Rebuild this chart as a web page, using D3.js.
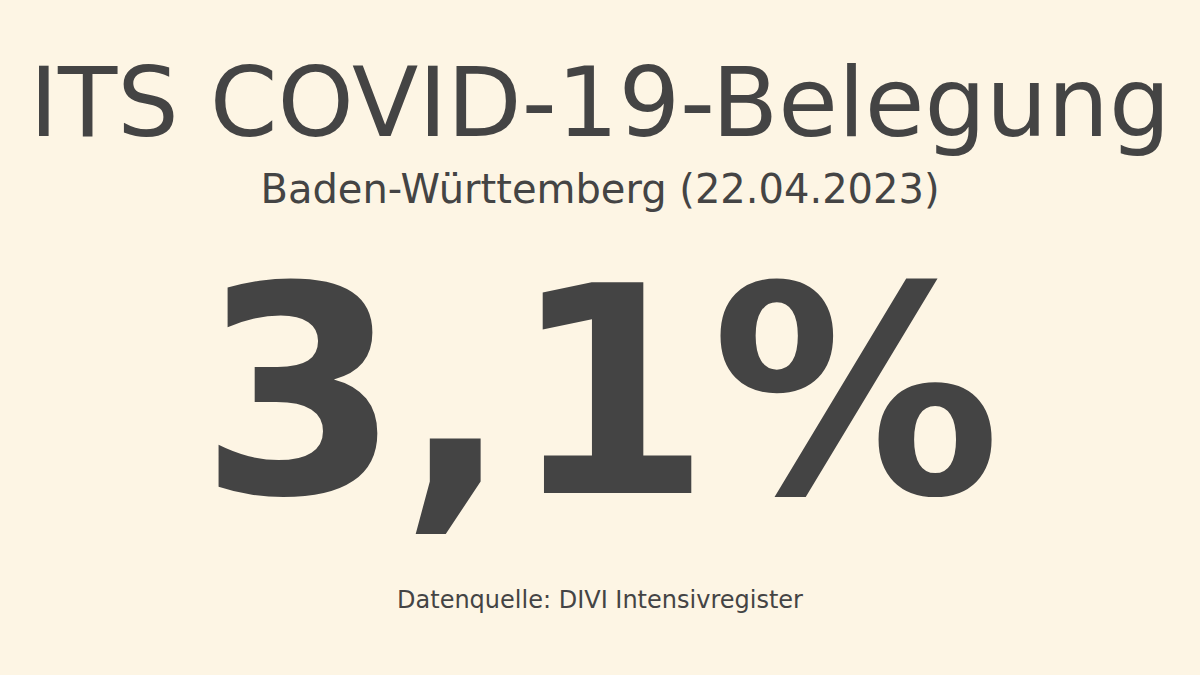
<!DOCTYPE html>
<html>
<head>
<meta charset="utf-8">
<script src="https://cdn.jsdelivr.net/npm/d3@7"></script>
<style>
  body { margin: 0; background: #fdf5e4; }
  svg text { font-family: "DejaVu Sans", sans-serif; fill: #444444; }
</style>
</head>
<body>
<svg id="card" width="1200" height="675"></svg>
<script>
var title = ["ITS COVID-19-Belegung"];
var region = ["Baden-Württemberg"];
var dates = ["22.04.2023"];
var values = [3.1];
var source = ["Datenquelle: DIVI Intensivregister"];

var svg = d3.select("#card");
svg.append("rect").attr("width", 1200).attr("height", 675).attr("fill", "#fdf5e4");

var fmt = function(v){ return d3.format(".1f")(v).replace(".", ",") + "%"; };

var lines = [
  {text: title[0], y: 136, size: 97, weight: "normal"},
  {text: region[0] + " (" + dates[0] + ")", y: 203, size: 40, weight: "normal"},
  {text: fmt(values[0]), y: 493, size: 289, weight: "bold"},
  {text: source[0], y: 608, size: 24, weight: "normal"}
];

svg.selectAll("text.line")
    .data(lines)
    .enter()
    .append("text")
    .attr("class", "line")
    .attr("x", 600)
    .attr("y", function(d){ return d.y; })
    .attr("text-anchor", "middle")
    .style("font-size", function(d){ return d.size + "px"; })
    .style("font-weight", function(d){ return d.weight; })
    .text(function(d){ return d.text; });
</script>
</body>
</html>
